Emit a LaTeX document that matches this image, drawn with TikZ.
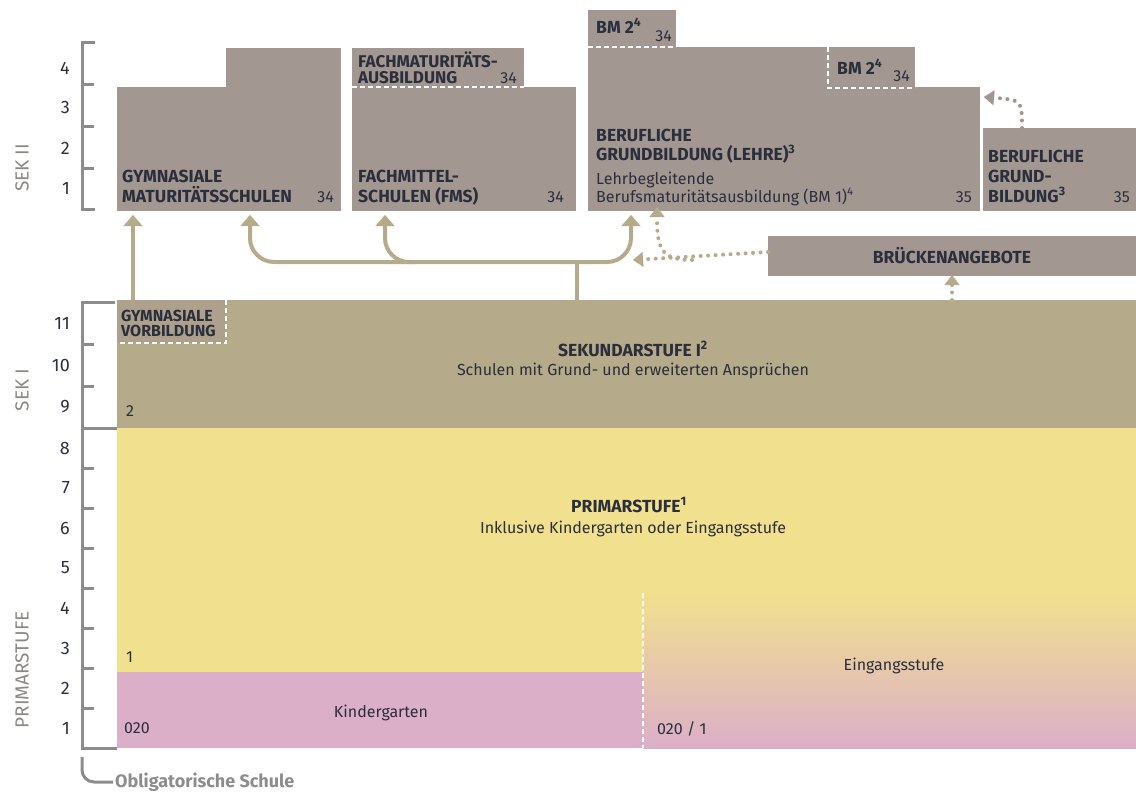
\documentclass[tikz,border=0pt]{standalone}
\usepackage{fontspec}
\setmainfont{Fira Sans}
\usetikzlibrary{positioning,calc,arrows.meta}

\definecolor{grau}{HTML}{A39792}
\definecolor{sand}{HTML}{B5AA8A}
\definecolor{gelb}{HTML}{F1E08E}
\definecolor{rosa}{HTML}{DBAFC8}
\definecolor{schrift}{HTML}{2B2E3B}
\definecolor{achsgrau}{HTML}{8C8C8C}
\definecolor{stufengrau}{HTML}{8A8883}
\definecolor{punktgrau}{HTML}{A0958F}

\tikzset{
  kasten/.style={fill=grau, inner sep=0pt, outer sep=0pt, anchor=north west},
  titel/.style={font=\fontsize{17.5}{20}\selectfont\bfseries, text=schrift, inner sep=0pt, align=left, anchor=base west},
  lauf/.style={font=\fontsize{16}{20}\selectfont, text=schrift, inner sep=0pt, align=left, anchor=base west},
  seite/.style={font=\fontsize{16}{20}\selectfont, text=schrift, inner sep=0pt, anchor=base east},
  zahl/.style={font=\fontsize{18}{20}\selectfont, text=schrift, inner sep=0pt, anchor=east},
  stufe/.style={font=\fontsize{19}{20}\selectfont, text=stufengrau, inner sep=0pt, rotate=90},
  achse/.style={draw=achsgrau, line width=3pt},
  trenn/.style={draw=white, line width=1.5pt, dash pattern=on 5pt off 3pt},
  pfeil/.style={draw=sand, line width=4pt, -{Triangle[width=19pt,length=11pt,line width=0.1pt]}, shorten >=4pt},
  punktpfeil/.style={line width=4pt, line cap=round, dash pattern=on 0pt off 7.5pt,
    -{Triangle[width=15pt,length=10pt,line width=0.1pt]}}
}

\begin{document}
\begin{tikzpicture}[x=1pt,y=-1pt]
\useasboundingbox (0,0) rectangle (1136,796);

% Sekundarstufe II
\node[kasten, minimum width=224pt, minimum height=124pt] (gym) at (117,87) {};
\node[kasten, minimum width=115pt, minimum height=40pt] (gymoben) at (226,48) {};
\node[kasten, minimum width=172pt, minimum height=39pt] (fachmat) at (352,48) {};
\node[kasten, minimum width=224pt, minimum height=124pt] (fms) at (352,87) {};
\node[kasten, minimum width=88pt, minimum height=37pt] (bmoben) at (588,10) {};
\node[kasten, minimum width=241pt, minimum height=41pt] (berufoben) at (588,47) {};
\node[kasten, minimum width=87pt, minimum height=41pt] (bminnen) at (828,47) {};
\node[kasten, minimum width=392pt, minimum height=124pt] (beruf) at (588,87) {};
\node[kasten, minimum width=153pt, minimum height=83pt] (eba) at (983,128) {};
\node[kasten, minimum width=368pt, minimum height=40pt] (bruecke) at (768,236) {};

\draw[trenn] (fachmat.south west) -- (fachmat.south east);
\draw[trenn] (bmoben.south west) -- (bmoben.south east);
\draw[trenn] (bminnen.north west) -- (bminnen.south west) -- (bminnen.south east);

\node[titel] (gymtxt) at (122,202) {GYMNASIALE\\MATURITÄTSSCHULEN};
\node[seite] at (334,202) {34};
\node[titel, font=\fontsize{17}{16}\selectfont\bfseries] (fachmattxt) at (358,83) {FACHMATURITÄTS-\\AUSBILDUNG};
\node[seite] at (517,83) {34};
\node[titel] (fmstxt) at (358,202) {FACHMITTEL-\\SCHULEN (FMS)};
\node[seite] at (564,202) {34};
\node[titel] (bmobentxt) at (596,33) {BM 2\textsuperscript{4}};
\node[seite] at (672,41) {34};
\node[titel] (bminnentxt) at (837,74) {BM 2\textsuperscript{4}};
\node[seite] at (910,81) {34};
\node[titel, font=\fontsize{17.5}{19}\selectfont\bfseries] (beruftxt) at (596,160) {BERUFLICHE\\GRUNDBILDUNG (LEHRE)\textsuperscript{3}};
\node[lauf, font=\fontsize{16}{18}\selectfont] (bm1txt) at (596,202) {Lehrbegleitende\\Berufsmaturitätsausbildung (BM 1)\textsuperscript{4}};
\node[seite] at (972,202) {35};
\node[titel] (ebatxt) at (988,202) {BERUFLICHE\\GRUND-\\BILDUNG\textsuperscript{3}};
\node[seite] at (1130,202) {35};
\node[titel, anchor=base] (bruecketxt) at (bruecke.center |- 0,263) {BRÜCKENANGEBOTE};

% Sekundarstufe I und Primarstufe
\node[kasten, fill=sand, minimum width=1019pt, minimum height=128pt] (sek) at (117,300) {};
\node[kasten, fill=sand!55!grau, minimum width=109pt, minimum height=43pt] (vorb) at (117,300) {};
\draw[trenn] (vorb.north east) -- (vorb.south east) -- (vorb.south west);
\node[kasten, fill=gelb, minimum width=1019pt, minimum height=245pt] (primar) at (117,428) {};
\node[kasten, fill=rosa, minimum width=526pt, minimum height=76pt] (kiga) at (117,672) {};
\node[kasten, top color=gelb, bottom color=rosa, minimum width=493pt, minimum height=155pt] (eingang) at (643,593) {};
\draw[trenn] (eingang.north west) -- (eingang.south west);

\node[titel, font=\fontsize{16}{15}\selectfont\bfseries] (vorbtxt) at (121,336) {GYMNASIALE\\VORBILDUNG};
\node[titel, anchor=base] (sektitel) at (633,356) {SEKUNDARSTUFE I\textsuperscript{2}};
\node[lauf, anchor=base] (sekzeile) at (633,375) {Schulen mit Grund- und erweiterten Ansprüchen};
\node[lauf] at (126,416) {2};
\node[titel, anchor=base] (primtitel) at (629,512) {PRIMARSTUFE\textsuperscript{1}};
\node[lauf, anchor=base] (primzeile) at (633,533) {Inklusive Kindergarten oder Eingangsstufe};
\node[lauf] at (126,662) {1};
\node[lauf, anchor=base] (kigatxt) at (381,717) {Kindergarten};
\node[lauf] at (124,733) {020};
\node[lauf, anchor=base] (eingangtxt) at (894,670) {Eingangsstufe};
\node[lauf] at (657,734) {020 / 1};

% Uebergaenge
\coordinate (knoten) at (577,262);
\coordinate (fmsab) at (412,262);
\draw[pfeil] ([xshift=16pt]vorb.north west) -- ([xshift=16pt]gym.south west);
\draw[draw=sand, line width=4pt] (sek.north -| knoten) -- (knoten);
\draw[pfeil, rounded corners=24pt] (knoten) -| ([xshift=133pt]gym.south west);
\draw[pfeil, rounded corners=24pt] (fmsab) -| ([xshift=33pt]fms.south west);
\draw[pfeil, rounded corners=24pt] (knoten) -| ([xshift=43pt]beruf.south west);

\coordinate (bspitze) at (633,260);
\coordinate (bab) at (692,260);
\draw[punktpfeil, draw=sand] ([yshift=4pt]bruecke.west) -- (bspitze);
\draw[punktpfeil, draw=sand] (bab) .. controls (662,260) and (657,250) .. ([xshift=69pt,yshift=4pt]beruf.south west);
\draw[punktpfeil, draw=sand] (sek.north -| bruecke.south) -- ([yshift=1pt]bruecke.south);
\draw[punktpfeil, draw=punktgrau] ([xshift=39pt]eba.north west) .. controls (1022,100) .. ([xshift=4pt]beruf.north east |- 0,97);

% Achsen
\draw[achse] (95,42) -- (82,42) -- (82,209) -- (95,209);
\foreach \y in {84,126,168} \draw[achse] (82,\y) -- (94,\y);
\draw[achse] (115,302) -- (82,302) -- (82,748) -- (117,748);
\draw[achse] (82,428) -- (117,428);
\foreach \y in {344,386,468,508,548,588,628,668,708} \draw[achse] (82,\y) -- (94,\y);
\draw[achse, rounded corners=12pt] (82,757) -- (82,782) -- (113,782);

\foreach \n/\y in {1/188,2/148,3/107,4/68} \node[zahl] (sekzwei\n) at (70,\y) {\n};
\foreach \n in {9,10,11} \node[zahl] (sekeins\n) at (70,{428-(\n-8.5)*42}) {\n};
\foreach \n in {1,...,8} \node[zahl] (prim\n) at (70,{748-(\n-0.5)*40}) {\n};

\node[stufe] (sekzweilabel) at (22,168) {SEK II};
\node[stufe] (sekeinslabel) at (22,390) {SEK I};
\node[stufe] (primlabel) at (22,670) {PRIMARSTUFE};
\node[font=\fontsize{18}{20}\selectfont\bfseries, text=achsgrau, inner sep=0pt, anchor=base west] (obligat) at (115,787) {Obligatorische Schule};
\end{tikzpicture}
\end{document}
